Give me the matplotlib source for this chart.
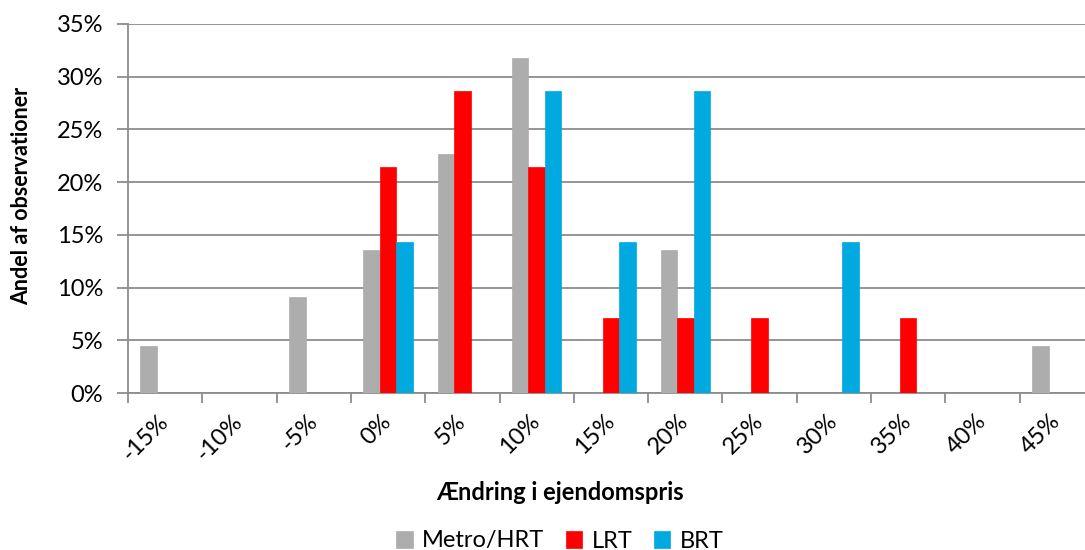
import numpy as np
import matplotlib
matplotlib.use("Agg")
import matplotlib.pyplot as plt
from matplotlib.ticker import FixedLocator, PercentFormatter

plt.rcParams['font.family'] = ['Lato', 'DejaVu Sans']

categories = ["-15%", "-10%", "-5%", "0%", "5%", "10%", "15%", "20%",
              "25%", "30%", "35%", "40%", "45%"]
metro_hrt = [4.5, 0, 9.1, 13.6, 22.7, 31.8, 0, 13.6, 0, 0, 0, 0, 4.5]
lrt = [0, 0, 0, 21.4, 28.6, 21.4, 7.1, 7.1, 7.1, 0, 7.1, 0, 0]
brt = [0, 0, 0, 14.3, 0, 28.6, 14.3, 28.6, 0, 14.3, 0, 0, 0]

series = [("Metro/HRT", metro_hrt, "#ADADAD"),
          ("LRT", lrt, "#FF0000"),
          ("BRT", brt, "#00A9E0")]

fs = 17

fig = plt.figure(figsize=(10.85, 5.5), dpi=100)
ax = fig.add_axes([128 / 1085, 157 / 550, 966 / 1085, 369 / 550])

x = np.arange(len(categories))
w = 1 / 4.5
for i, (name, vals, col) in enumerate(series):
    ax.bar(x + (i - 1) * w, vals, width=w, color=col, edgecolor=col,
           linewidth=0.5, label=name, zorder=3)

ax.set_xlim(-0.5, len(categories) - 0.5)
ax.set_ylim(0, 35)
ax.set_yticks(np.arange(0, 36, 5))
ax.yaxis.set_major_formatter(PercentFormatter(decimals=0))
ax.grid(axis='y', color='#8C8C8C', linewidth=1.3, zorder=0)

# category boundaries as major ticks, labels on minor ticks at centres
ax.xaxis.set_major_locator(FixedLocator(np.arange(-0.5, len(categories), 1)))
ax.xaxis.set_minor_locator(FixedLocator(x))
ax.set_xticklabels([])
ax.set_xticklabels(categories, minor=True, rotation=45, ha='right',
                   va='center', rotation_mode='anchor', fontsize=fs)
ax.tick_params(axis='x', which='major', length=7, width=1.3, color='#8C8C8C')
ax.tick_params(axis='x', which='minor', length=0, pad=18)
ax.tick_params(axis='y', length=8, width=1.3, color='#8C8C8C',
               labelsize=fs, pad=10)

for s in ['top', 'right']:
    ax.spines[s].set_visible(False)
for s in ['left', 'bottom']:
    ax.spines[s].set_color('#8C8C8C')
    ax.spines[s].set_linewidth(1.3)

fig.text(22 / 1085, 1 - 196 / 550, "Andel af observationer", rotation=90,
         ha='center', va='center', fontsize=15.5, fontweight='bold')
fig.text(560 / 1085, 1 - 492 / 550, "Ændring i ejendomspris", ha='center',
         va='center', fontsize=fs, fontweight='bold')

fig.legend(loc='center', bbox_to_anchor=(560 / 1085, 1 - 541 / 550), ncol=3,
           frameon=False, fontsize=fs, handlelength=0.7, handleheight=0.7,
           handletextpad=0.4, columnspacing=0.9)

fig.savefig("out.png", dpi=100)
